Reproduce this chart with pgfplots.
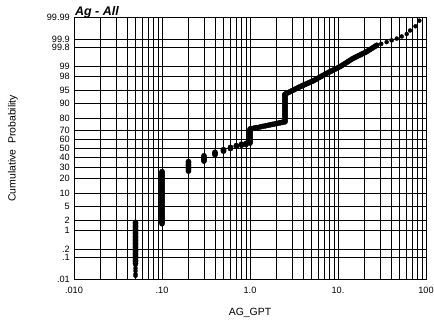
\documentclass[border=0pt]{standalone}
\usepackage{pgfplots}
\pgfplotsset{compat=1.18}
\usepackage{fontspec}
\setmainfont{Liberation Sans}
\begin{document}
\begin{tikzpicture}
\useasboundingbox (0,0) rectangle (434bp,327bp);
\begin{axis}[
  at={(74bp,47.7bp)}, anchor=south west,
  scale only axis, width=352bp, height=261.8bp,
  xmode=log, xmin=0.01, xmax=100,
  ymin=-3.719, ymax=3.719,
  xtick={0.01,0.1,1,10,100},
  xticklabels={.010,.10,1.0,10.,100},
  minor xtick={0.02,0.03,0.04,0.05,0.06,0.07,0.08,0.09,0.2,0.3,0.4,0.5,0.6,0.7,0.8,0.9,2,3,4,5,6,7,8,9,20,30,40,50,60,70,80,90},
  ytick={-3.719,-3.0902,-2.8782,-2.3263,-2.0537,-1.6449,-1.2816,-0.8416,-0.5244,-0.2533,0,0.2533,0.5244,0.8416,1.2816,1.6449,2.0537,2.3263,2.8782,3.0902,3.719},
  yticklabels={.01,.1,.2,1,2,5,10,20,30,40,50,60,70,80,90,95,98,99,99.8,99.9,99.99},
  grid=both,
  major grid style={black, line width=0.7bp},
  minor grid style={black, line width=0.7bp},
  axis line style={black, line width=0.8bp},
  major tick length=0pt, minor tick length=0pt,
  ticklabel style={font=\fontsize{9.2}{10}\selectfont, inner sep=0pt},
  yticklabel shift=4bp,
  xticklabel shift=7.5bp,
  xlabel={AG\_GPT},
  ylabel={Cumulative\ \ Probability},
  label style={font=\fontsize{10.5}{12}\selectfont},
  xlabel style={at={(axis description cs:0.5,-0.129)}, anchor=center},
  ylabel style={at={(axis description cs:-0.1733,0.5)}, anchor=center},
  clip=false,
]
\addplot[only marks, mark=*, mark size=2.6pt, black] coordinates {
(0.05,-3.26)(0.05,-3.22)(0.05,-3.18)(0.05,-3.14)(0.05,-3.10)(0.05,-3.06)(0.05,-3.02)(0.05,-2.98)(0.05,-2.94)(0.05,-2.90)(0.05,-2.86)(0.05,-2.82)(0.05,-2.78)(0.05,-2.74)(0.05,-2.70)(0.05,-2.66)(0.05,-2.62)(0.05,-2.58)(0.05,-2.54)(0.05,-2.50)(0.05,-2.46)(0.05,-2.42)(0.05,-2.38)(0.05,-2.34)(0.05,-2.30)(0.05,-2.26)(0.05,-2.22)(0.05,-2.18)(0.05,-2.14)(0.05,-2.10)
(0.1,-2.14)(0.1,-2.10)(0.1,-2.06)(0.1,-2.02)(0.1,-1.98)(0.1,-1.94)(0.1,-1.90)(0.1,-1.86)(0.1,-1.82)(0.1,-1.78)(0.1,-1.74)(0.1,-1.70)(0.1,-1.66)(0.1,-1.62)(0.1,-1.58)(0.1,-1.54)(0.1,-1.50)(0.1,-1.46)(0.1,-1.42)(0.1,-1.38)(0.1,-1.34)(0.1,-1.30)(0.1,-1.26)(0.1,-1.22)(0.1,-1.18)(0.1,-1.14)(0.1,-1.10)(0.1,-1.06)(0.1,-1.02)(0.1,-0.98)(0.1,-0.94)(0.1,-0.90)(0.1,-0.86)(0.1,-0.82)(0.1,-0.78)(0.1,-0.74)(0.1,-0.70)(0.1,-0.66)
(0.2,-0.645)(0.2,-0.61)(0.2,-0.57)(0.2,-0.53)(0.2,-0.49)(0.2,-0.45)(0.2,-0.41)(0.2,-0.375)
(0.3,-0.36)(0.3,-0.32)(0.3,-0.29)(0.3,-0.25)(0.3,-0.21)
(0.4,-0.18)(0.4,-0.145)(0.4,-0.11)
(0.5,-0.077)(0.5,-0.055)(0.5,-0.035)
(0.6,-0.005)(0.6,0.03)
(0.7,0.06)(0.7,0.08)
(0.8,0.09)(0.8,0.12)
(0.9,0.11)(0.9,0.14)
(1.0,0.15)(1.0,0.19)(1.0,0.23)(1.0,0.27)(1.0,0.31)(1.0,0.35)(1.0,0.39)(1.0,0.43)(1.0,0.47)(1.0,0.51)(1.0,0.55)
(1.05,0.561)(1.1,0.572)(1.15,0.582)(1.2,0.591)(1.3,0.609)(1.4,0.626)(1.5,0.642)(1.6,0.656)(1.7,0.670)(1.8,0.683)(1.9,0.695)(2.0,0.707)(2.1,0.718)(2.2,0.728)(2.3,0.738)(2.4,0.748)(2.5,0.757)
(2.5,0.80)(2.5,0.84)(2.5,0.88)(2.5,0.92)(2.5,0.96)(2.5,1.00)(2.5,1.04)(2.5,1.08)(2.5,1.12)(2.5,1.16)(2.5,1.20)(2.5,1.24)(2.5,1.28)(2.5,1.32)(2.5,1.36)(2.5,1.40)(2.5,1.44)(2.5,1.48)(2.5,1.52)(2.5,1.54)
(2.62,1.566)(2.754,1.592)(2.884,1.617)(3.020,1.642)(3.162,1.667)(3.311,1.692)(3.467,1.717)(3.631,1.742)(3.802,1.765)(3.981,1.788)(4.169,1.810)(4.365,1.832)(4.571,1.855)(4.786,1.877)(5.012,1.899)(5.248,1.921)(5.495,1.949)(5.754,1.977)(6.026,2.005)(6.310,2.033)(6.607,2.061)(6.918,2.088)(7.244,2.116)(7.586,2.143)(7.943,2.168)(8.318,2.193)(8.710,2.218)(9.120,2.243)(9.550,2.268)(10.0,2.292)(10.47,2.320)(10.96,2.348)(11.48,2.380)(12.02,2.412)(12.59,2.444)(13.18,2.476)(13.80,2.508)(14.45,2.539)(15.14,2.566)(15.85,2.593)(16.60,2.618)(17.38,2.642)(18.20,2.667)(19.05,2.691)(19.95,2.716)(20.89,2.740)(21.88,2.771)(22.91,2.802)(23.99,2.834)(25.12,2.866)(26.30,2.898)(27.54,2.930)
};
\addplot[only marks, mark=*, mark size=2.0pt, black] coordinates {
(0.05,-3.32)(0.05,-3.41)(0.05,-3.48)(0.05,-3.57)(0.05,-3.62)
(31,2.97)(35.7,3.02)(40.7,3.07)(46.5,3.12)(53,3.18)(60.4,3.25)(66,3.35)(76,3.47)(84,3.63)
};
\node[anchor=base west, inner sep=0pt, font=\fontsize{12.5}{14}\selectfont\bfseries\itshape] at ([xshift=1bp,yshift=2bp]rel axis cs:0,1) {Ag - All};
\end{axis}
\end{tikzpicture}
\end{document}
